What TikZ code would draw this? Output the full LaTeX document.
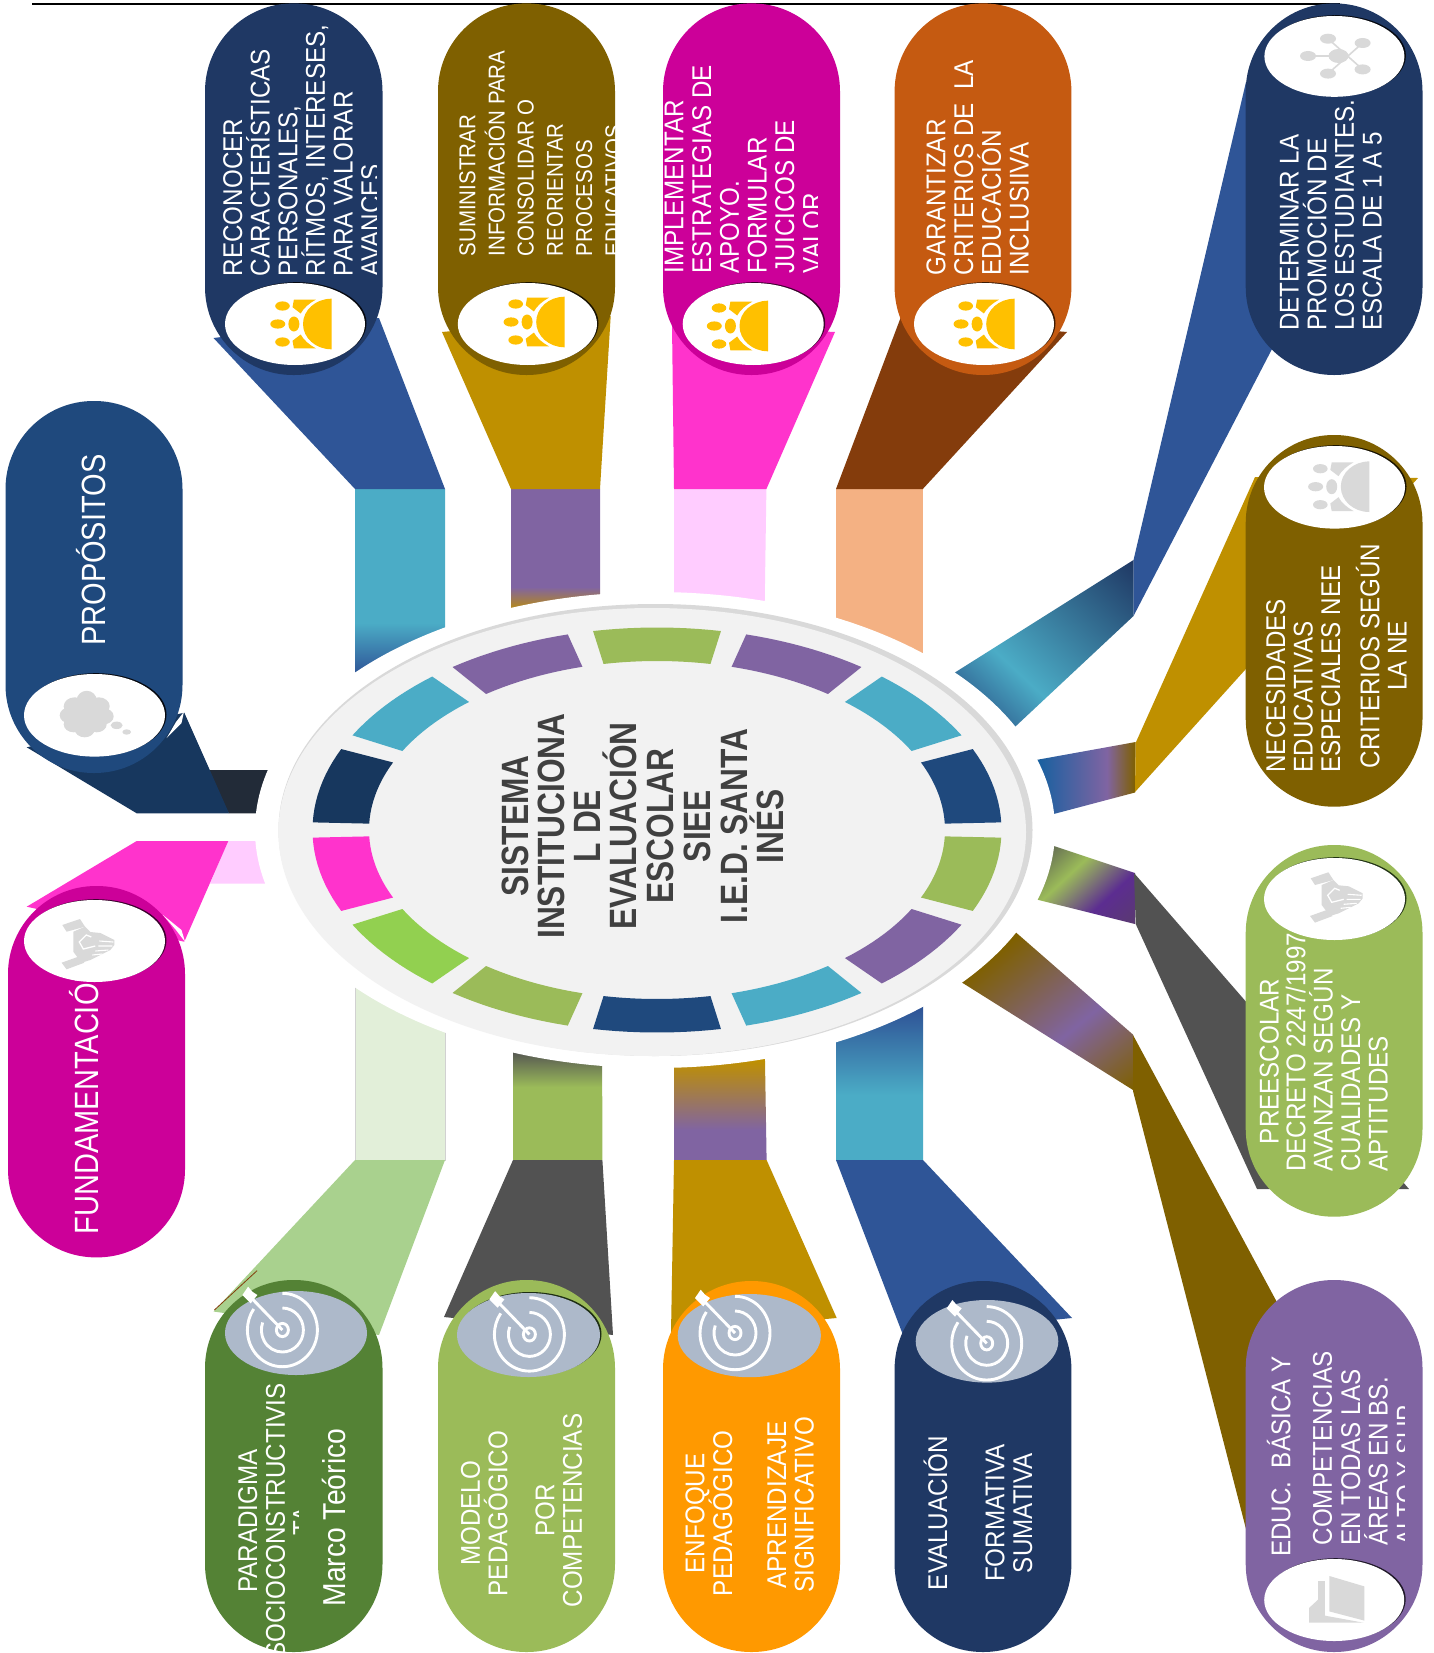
\documentclass[tikz,border=0pt]{standalone}
\usepackage{fontspec}
\setmainfont{Liberation Sans}
\definecolor{navy}{HTML}{1F3864}
\definecolor{navyb}{HTML}{1F497D}
\definecolor{navyc}{HTML}{17375E}
\definecolor{olive}{HTML}{7F6000}
\definecolor{magen}{HTML}{CC0099}
\definecolor{rust}{HTML}{C55A11}
\definecolor{leaf}{HTML}{9BBB59}
\definecolor{grape}{HTML}{8064A2}
\definecolor{orng}{HTML}{FF9900}
\definecolor{forest}{HTML}{548235}
\definecolor{midblue}{HTML}{2F5597}
\definecolor{teal2}{HTML}{4BACC6}
\definecolor{gold}{HTML}{BF9000}
\definecolor{hotpink}{HTML}{FF33CC}
\definecolor{palepink}{HTML}{FFCCFF}
\definecolor{brownd}{HTML}{843C0C}
\definecolor{peach}{HTML}{F4B183}
\definecolor{slate}{HTML}{525252}
\definecolor{sage}{HTML}{A9D18E}
\definecolor{palegreen}{HTML}{E2EFD9}
\definecolor{lime}{HTML}{92D050}
\definecolor{ink}{HTML}{222B38}
\definecolor{steel}{HTML}{ADB9CA}
\definecolor{sun}{HTML}{FFC000}
\definecolor{ashy}{HTML}{D9D9D9}
\definecolor{disc}{HTML}{F2F2F2}
\definecolor{captxt}{HTML}{404040}
\definecolor{bluea}{HTML}{1560A0}
\definecolor{bluefade}{HTML}{2F5F8F}
\definecolor{grayolive}{HTML}{525252}
\definecolor{violet2}{HTML}{5C2D91}
\definecolor{violet3}{HTML}{5A3A70}
% gradients: 1bp of shading = 5 units along the axis
\pgfdeclareverticalshading{gra}{100bp}{color(0bp)=(midblue); color(35.2bp)=(midblue); color(45.4bp)=(teal2); color(100bp)=(teal2)}
\pgfdeclareverticalshading{grb}{100bp}{color(0bp)=(gold); color(47.6bp)=(gold); color(52.6bp)=(grape); color(100bp)=(grape)}
\pgfdeclareverticalshading{grc}{100bp}{color(0bp)=(bluefade); color(28.8bp)=(bluefade); color(40.8bp)=(teal2); color(73bp)=(navy); color(100bp)=(navy)}
\pgfdeclareverticalshading{grd}{100bp}{color(0bp)=(bluea); color(39.2bp)=(bluea); color(53.4bp)=(grape); color(59bp)=(olive); color(100bp)=(olive)}
\pgfdeclareverticalshading{gre}{100bp}{color(0bp)=(grayolive); color(38.7bp)=(grayolive); color(47.7bp)=(leaf); color(56.4bp)=(violet2); color(63.9bp)=(violet3); color(100bp)=(violet3)}
\pgfdeclareverticalshading{grf}{100bp}{color(0bp)=(olive); color(35.8bp)=(olive); color(57.4bp)=(grape); color(74.4bp)=(olive); color(100bp)=(olive)}
\pgfdeclareverticalshading{grg}{100bp}{color(0bp)=(teal2); color(47bp)=(teal2); color(64bp)=(midblue); color(100bp)=(midblue)}
\pgfdeclareverticalshading{grh}{100bp}{color(0bp)=(grape); color(44bp)=(grape); color(58bp)=(gold); color(100bp)=(gold)}
\pgfdeclareverticalshading{gri}{100bp}{color(0bp)=(leaf); color(52.6bp)=(leaf); color(60bp)=(slate); color(100bp)=(slate)}
\newcommand\gradfill[5]{\begin{scope}\clip #5;\shade[shading=#1,shading angle=#2] ({#3-125},{#4-125}) rectangle ({#3+125},{#4+125});\end{scope}}
\newcommand\pill[5]{\fill[#1,rounded corners=88pt] (#2,#3) rectangle (#4,#5);}
\newcommand\plainoval[5]{\fill[#1] (#2,#3) ellipse[x radius=#4,y radius=#5];}
\newcommand\rimoval[5]{\fill[#1] ({#2+1.5},{#3-.8}) ellipse[x radius=#4,y radius=#5];\fill[white] (#2,#3) ellipse[x radius=#4,y radius=#5];}
\newcommand\seg[2]{\pgfmathsetmacro\sa{#1-10.7}\pgfmathsetmacro\sb{#1+10.7}\fill[#2] plot[domain=\sa:\sb,samples=12] ({657+344.5*cos(\x)},{830-202.5*sin(\x)}) -- plot[domain=\sb:\sa,samples=12] ({657+288*cos(\x)},{830-169*sin(\x)}) -- cycle;}
\newcommand\sunicon[3]{\begin{scope}[shift={(#1,#2)}]
\fill[#3] (0,-25.3) arc[start angle=270,end angle=90,x radius=28.5,y radius=25.3] -- cycle;
\fill[#3] (-37.6,-24.4) -- (-15.6,-24.4) .. controls (-22,-21) and (-28,-16) .. (-30.8,-10.5) -- (-39,-16.8) -- cycle;
\fill[#3] (-37.6,24.4) -- (-15.6,24.4) .. controls (-22,21) and (-28,16) .. (-30.8,10.5) -- (-39,16.8) -- cycle;
\fill[#3] (-37.6,0) ellipse[x radius=5.5,y radius=7.5];
\fill[#3] (-49,-18) ellipse[x radius=7.3,y radius=4.6];
\fill[#3] (-53.7,0) ellipse[x radius=7.5,y radius=4.6];
\fill[#3] (-49,18) ellipse[x radius=7.3,y radius=4.6];
\end{scope}}
\newcommand\targeticon[2]{\begin{scope}[shift={(#1,#2)},line width=2.9pt,white]
\draw (0,-36.7) arc[start angle=270,end angle=575,x radius=35,y radius=36.7];
\draw (0,-22) arc[start angle=270,end angle=560,x radius=21,y radius=22];
\draw (0,0) ellipse[x radius=6,y radius=6.6];
\draw (0,0) -- (-30,-31);
\fill (-40,-35) -- (-34.3,-43.3) -- (-30,-38.3) -- (-25,-35) -- (-31.7,-26.7) -- (-35,-30) -- cycle;
\end{scope}}
\newcommand\handicon[2]{\begin{scope}[shift={(#1,#2)}]
\fill[ashy] (-26,-20) -- (-8.3,-26) -- (-3.3,-18.3) -- (-21.7,-13.3) -- cycle;
\fill[ashy] (-26.7,17.7) -- (-10,11.7) -- (-4,17.7) -- (-21.7,24.3) -- cycle;
\fill[ashy] (-15,-13.3) -- (-3.3,-18.3) -- (2,-13) -- (12,-12) -- (26,-5) -- (26,0) -- (22,5) -- (16,8) -- (2,15) -- (-6.7,17.7) -- (-15,6.7) -- cycle;
\draw[white,line width=1.3pt] (3,-8) -- (-2,-10) -- (-9,-3) -- (-5,4) -- (7,1);
\draw[white,line width=1.1pt] (11,-4) -- (25,-3) (10,1) -- (24,1) (7,6) -- (20,5) (4,10) -- (14,9);
\end{scope}}
\tikzset{
 vt/.style={xshift=2.5pt,yshift=-2pt,rotate=90,yscale=1.12,text=white,inner sep=0pt,font=\fontsize{24.2}{28}\selectfont},
 vtl/.style={vt,anchor=base west},
 vtc/.style={vt,anchor=base},
 vtb/.style={yshift=-2pt,rotate=90,yscale=1.16,text=white,inner sep=0pt,font=\fontsize{29}{32}\selectfont,anchor=base west},
 captitle/.style={rotate=90,yscale=1.2,text=captxt,inner sep=0pt,font=\fontsize{31.7}{38}\selectfont\bfseries,anchor=base}
}
\begin{document}
\begin{tikzpicture}[x=1pt,y=-1pt]
\useasboundingbox (0,0) rectangle (1433,1653);
\fill[white] (0,0) rectangle (1433,1653);
\coordinate (la) at (32,4.4); \coordinate (lb) at (1340,4.4);
\draw[black,line width=2.2pt] (la) -- (lb);
% inner ribbons
\gradfill{gra}{0}{400}{600}{(355,489) -- (445,489) -- (445,700) -- (355,700) -- cycle}
\gradfill{grb}{0}{555}{600}{(511,489) -- (600,489) -- (600,680) -- (511,680) -- cycle}
\fill[palepink] (674,489) -- (766.4,489) -- (764,650) -- (674,650) -- cycle;
\fill[peach] (836,489) -- (922.8,489) -- (922.8,700) -- (836,700) -- cycle;
\gradfill{grc}{-43}{1050}{640}{(1133.5,560) -- (1133.5,616) -- (1017,725) -- (982,758) -- (920,694) -- (955.7,672) -- cycle}
\gradfill{grd}{-90}{1090}{780}{(1135.7,742) -- (1135,792.5) -- (1053.7,814) -- (1000,828) -- (1000,766.5) -- (1036,760) -- cycle}
\gradfill{gre}{-137}{1080}{880}{(1135,873) -- (1135,924) -- (1038.7,900) -- (1000,890) -- (1000,828) -- (1054,846) -- cycle}
\gradfill{grf}{-140.3}{1050}{1000}{(1133,1034.6) -- (1133,1090) -- (962.7,983) -- (930,962) -- (980,901) -- (1017.7,934) -- cycle}
\gradfill{grg}{0}{880}{1080}{(836,1160) -- (923,1160) -- (923,960) -- (836,960) -- cycle}
\gradfill{grh}{0}{720}{1100}{(674,1160) -- (766.6,1160) -- (764,1000) -- (674,1000) -- cycle}
\gradfill{gri}{0}{558}{1100}{(513,1160) -- (602.4,1160) -- (602,1000) -- (513,1000) -- cycle}
\fill[palegreen,draw=black!18,line width=.4pt] (355,1160) -- (445,1160) -- (445,950) -- (355,950) -- cycle;
\fill[ink] (200,770) -- (300,770) -- (300,813.3) -- (229,813.3) -- cycle;
\fill[palepink] (228,841) -- (300,841) -- (300,883.7) -- (210,883.7) -- cycle;
% outer ribbons
\fill[midblue] (213.5,338) -- (379,318) -- (445,489) -- (355,489) -- cycle;
\fill[gold] (442,332) -- (610.7,316) -- (600,489) -- (511,489) -- cycle;
\fill[hotpink] (672,324) -- (835,332) -- (766.4,489) -- (674,489) -- cycle;
\fill[brownd] (900.5,318) -- (1067,332) -- (922.8,489) -- (836,489) -- cycle;
\fill[midblue] (1133.5,560) -- (1246,82) -- (1340,150) -- (1272,349) -- (1133.5,616) -- cycle;
\fill[gold] (1135.7,742.7) -- (1255,477) -- (1418,478) -- (1135,792) -- cycle;
\fill[slate] (1134,873) -- (1409,1189) -- (1257,1189) -- (1135.7,924) -- cycle;
\fill[olive] (1133,1035) -- (1279,1306) -- (1350,1450) -- (1254,1560) -- (1133,1091) -- cycle;
\fill[midblue] (836,1160) -- (923,1160) -- (1072,1318) -- (903,1335) -- cycle;
\fill[gold] (674,1160) -- (766.6,1160) -- (836.7,1318) -- (671,1333) -- cycle;
\fill[slate] (513,1160) -- (602.4,1160) -- (613,1335) -- (444,1317) -- cycle;
\fill[sage] (355,1160) -- (445,1160) -- (379,1335) -- (213.5,1311.5) -- cycle;
\draw[brownd,line width=.8pt] (214.4,1310) -- (257,1270.7);
\fill[navyc] (26.7,747.3) -- (184.3,712.7) -- (229,813.3) -- (136.7,813.3) -- cycle;
\fill[hotpink] (136.7,841) -- (228.3,841) -- (184.3,941.7) -- (26.7,906.7) -- cycle;
% centre disc
\fill[white] (655,830) ellipse[x radius=400,y radius=238];
\fill[ashy] (655.5,830) ellipse[x radius=377,y radius=226];
\fill[disc] (652.2,832) ellipse[x radius=373.8,y radius=224];
\seg{12.86}{navyb}
\seg{38.57}{teal2}
\seg{64.29}{grape}
\seg{90}{leaf}
\seg{115.71}{grape}
\seg{141.43}{teal2}
\seg{167.14}{navyc}
\seg{192.86}{hotpink}
\seg{218.57}{lime}
\seg{244.29}{leaf}
\seg{270}{navyb}
\seg{295.71}{teal2}
\seg{321.43}{grape}
\seg{347.14}{leaf}
\node[captitle] (c1) at (528,826) {SISTEMA};
\node[captitle] (c2) at (564,826) {INSTITUCIONA};
\node[captitle] (c3) at (600,826) {L DE};
\node[captitle] (c4) at (636.6,826) {EVALUACIÓN};
\node[captitle] (c5) at (673.3,826) {ESCOLAR};
\node[captitle] (c6) at (710.6,826) {SIEE};
\node[captitle] (c7) at (747.4,826) {I.E.D. SANTA};
\node[captitle] (c8) at (783,826) {INÉS};
% pills
\pill{navy}{205}{3.4}{382.5}{375}
\pill{olive}{438}{3.4}{615}{375}
\pill{magen}{663}{3.4}{840}{375}
\pill{rust}{894.6}{3.4}{1071.4}{375}
\pill{navy}{1245.7}{3.4}{1422.5}{375}
\pill{olive}{1245.7}{435}{1422.5}{806.7}
\pill{leaf}{1245.7}{845}{1422.5}{1216.7}
\pill{grape}{1245.7}{1280}{1422.5}{1652}
\pill{navy}{894.6}{1281}{1071.4}{1652}
\pill{orng}{663}{1281}{840}{1652}
\pill{leaf}{438}{1280}{615}{1652}
\pill{forest}{205}{1280}{382.5}{1652}
\pill{navyb}{5.5}{401}{182.5}{773}
\pill{magen}{8}{886}{185}{1257.4}
% small white crescents beside the two left capsules
\fill[white] (184,711.7) -- (181.5,723) -- (166.7,738) -- (176,722) -- cycle;
\fill[white] (185,941.7) -- (181.5,930) -- (163,915) -- (176,930) -- cycle;
% texts
\begin{scope}\clip (205,3) rectangle (376.5,375);
\node[vtl] (a1) at (239.6,274.4) {RECONOCER};
\node[vtl] (a2) at (267.2,274.4) {CARACTERÍSTICAS};
\node[vtl] (a3) at (294.8,274.4) {PERSONALES,};
\node[vtl] (a4) at (322.4,274.4) {RÍTMOS, INTERESES,};
\node[vtl] (a5) at (350,274.4) {PARA VALORAR};
\node[vtl] (a6) at (377.6,274.4) {AVANCES};
\end{scope}
\begin{scope}\clip (438,3) rectangle (615,375);
\tikzset{vt/.append style={font=\fontsize{20.5}{25}\selectfont}}
\node[vtl] (b1) at (472.8,254.6) {SUMINISTRAR};
\node[vtl] (b2) at (502,254.6) {INFORMACIÓN PARA};
\node[vtl] (b3) at (531.2,254.6) {CONSOLIDAR O};
\node[vtl] (b4) at (560.4,254.6) {REORIENTAR};
\node[vtl] (b5) at (589.6,254.6) {PROCESOS};
\node[vtl] (b6) at (618.8,254.6) {EDUCATIVOS};
\end{scope}
\begin{scope}\clip (650,3) rectangle (817.3,375);
\node[vtl] (d1) at (680.9,271.5) {IMPLEMENTAR};
\node[vtl] (d2) at (708.6,271.5) {ESTRATEGIAS DE};
\node[vtl] (d3) at (736.3,271.5) {APOYO.};
\node[vtl] (d4) at (764,271.5) {FORMULAR};
\node[vtl] (d5) at (791.7,271.5) {JUICICOS DE};
\node[vtl] (d6) at (819.4,271.5) {VALOR};
\end{scope}
\node[vtl] (e1) at (942.9,273.6) {GARANTIZAR};
\node[vtl] (e2) at (970.6,273.6) {CRITERIOS DE\ \ LA};
\node[vtl] (e3) at (998.3,273.6) {EDUCACIÓN};
\node[vtl] (e4) at (1026,273.6) {INCLUSIIVA};
\node[vtl] (f1) at (1296.2,329) {DETERMINAR LA};
\node[vtl] (f2) at (1323.8,329) {PROMOCIÓN DE};
\node[vtl] (f3) at (1351.4,329) {LOS ESTUDIANTES.};
\node[vtl] (f4) at (1379,329) {ESCALA DE 1 A 5};
\node[vtl] (g1) at (1282.6,770.7) {NECESIDADES};
\node[vtl] (g2) at (1310.1,770.7) {EDUCATIVAS};
\node[vtl] (g3) at (1337.6,770.7) {ESPECIALES NEE};
\node[vtc] (g4) at (1376.9,654) {CRITERIOS SEGÚN};
\node[vtc] (g5) at (1404.2,654) {LA NE};
\node[vtl] (h1) at (1276.2,1142.3) {PREESCOLAR};
\node[vtl] (h2) at (1302.9,1170) {DECRETO 2247/1997};
\node[vtl] (h3) at (1330.2,1170) {AVANZAN SEGÚN};
\node[vtl] (h4) at (1357.6,1170) {CUALIDADES Y};
\node[vtl] (h5) at (1385.2,1170) {APTITUDES};
\begin{scope}\clip (1245,1280) rectangle (1404.4,1653);
\node[vtl] (i1) at (1287.9,1555) {EDUC.\ \ BÁSICA Y};
\node[vtl] (i2) at (1329.4,1543.5) {COMPETENCIAS};
\node[vtl] (i3) at (1357.6,1543.5) {EN TODAS LAS};
\node[vtl] (i4) at (1385,1543.5) {ÁREAS EN BS.};
\node[vtl] (i5) at (1413,1543.5) {ALTO Y SUP};
\end{scope}
\node[vtc] (j1) at (944.6,1511) {EVALUACIÓN};
\node[vtc] (j2) at (1001.9,1511) {FORMATIVA};
\node[vtc] (j3) at (1029.6,1511) {SUMATIVA};
\node[vtc] (k1) at (701.9,1511.3) {ENFOQUE};
\node[vtc] (k2) at (729.6,1511.3) {PEDAGÓGICO};
\node[vtc] (k3) at (783.6,1503) {APRENDIZAJE};
\node[vtc] (k4) at (811.2,1503) {SIGNIFICATIVO};
\node[vtc] (m1) at (477.4,1511.5) {MODELO};
\node[vtc] (m2) at (504.9,1511.5) {PEDAGÓGICO};
\node[vtc] (m3) at (551.9,1508.6) {POR};
\node[vtc] (m4) at (579.3,1508.6) {COMPETENCIAS};
\begin{scope}\clip (205,1280) rectangle (298.4,1652);
\node[vtc] (n1) at (254.7,1519) {PARADIGMA};
\node[vtc] (n2) at (282.3,1519) {SOCIOCONSTRUCTIVIS};
\node[vtc] (n3) at (309.4,1519) {TA};
\end{scope}
\node[vtc,font=\fontsize{28.3}{32}\selectfont] (n4) at (342.7,1515.6) {Marco Teórico};
\node[vtb] (o1) at (105,644) {PROPÓSITOS};
\node[vtb] (o2) at (98.7,1232.4) {FUNDAMENTACIÓN};
% ovals
\rimoval{black!85!navy}{295}{324}{70}{41}
\rimoval{black!80!olive}{527.4}{324}{69.6}{41}
\rimoval{black!70!magen}{753.2}{324}{70.5}{41}
\rimoval{black!70!rust}{984}{324}{70}{41}
\rimoval{black!85!navy}{1334.4}{56.4}{70}{40.4}
\rimoval{black!80!olive}{1334.5}{487.3}{70.5}{41.3}
\rimoval{black!60!forest}{1334.5}{899}{70.5}{41}
\rimoval{black!75!grape}{1334.2}{1600}{70}{41}
\rimoval{black!85!navy}{94.5}{715.3}{70.5}{41.3}
\rimoval{black!70!magen}{94.5}{941}{70.5}{41}
\fill[black!65!forest] (530,1334) ellipse[x radius=71.5,y radius=42];
\plainoval{steel}{987}{1341.3}{71.3}{41.3}
\plainoval{steel}{749.3}{1335.6}{71.6}{41.6}
\plainoval{steel}{528.5}{1335}{71.5}{42}
\plainoval{steel}{296}{1333}{71}{42}
% icons
\sunicon{331.5}{324}{sun}
\sunicon{564.7}{322}{sun}
\sunicon{768}{326}{sun}
\sunicon{1014.7}{324}{sun}
\sunicon{1369.3}{486.7}{ashy}
\targeticon{986.7}{1343.3}
\targeticon{735}{1333}
\targeticon{529.4}{1334.4}
\targeticon{282.4}{1330}
\handicon{1336.7}{898.3}
\handicon{88.3}{945}
% network icon
\begin{scope}[shift={(1338.5,56)}]
\draw[ashy,line width=1.6pt] (-10.5,-17.3) -- (24.1,13.4) (24.1,-13) -- (-10.5,17.6) (-30.5,0) -- (0,0);
\fill[ashy] (0,0) ellipse[x radius=10,y radius=7];
\fill[ashy] (-10.5,-17.3) ellipse[x radius=8,y radius=5];
\fill[ashy] (24.1,-13) ellipse[x radius=8,y radius=5];
\fill[ashy] (24.1,13.4) ellipse[x radius=8,y radius=5];
\fill[ashy] (-10.5,17.6) ellipse[x radius=8,y radius=5];
\fill[ashy] (-30.5,0) ellipse[x radius=8,y radius=5];
\end{scope}
% book icon
\fill[ashy] (1329.4,1576) -- (1364.4,1586.4) -- (1364.4,1620.6) -- (1329.4,1611.4) -- cycle;
\fill[ashy] (1318,1581) -- (1324.8,1581) -- (1324.8,1615.6) -- (1363.5,1622.7) -- (1309,1622.7) -- (1309,1608) -- (1318,1599.7) -- cycle;
% cloud icon
\begin{scope}[shift={(86.7,714.3)}]
\fill[ashy] (0,-14) ellipse[x radius=10,y radius=9.5];
\fill[ashy] (-12,-8) ellipse[x radius=11,y radius=9];
\fill[ashy] (12,-8) ellipse[x radius=11,y radius=9];
\fill[ashy] (-17,1) ellipse[x radius=10,y radius=8];
\fill[ashy] (17,2) ellipse[x radius=10,y radius=8];
\fill[ashy] (-13,10) ellipse[x radius=10,y radius=8];
\fill[ashy] (-2,15) ellipse[x radius=10,y radius=8];
\fill[ashy] (10,10) ellipse[x radius=10,y radius=8];
\fill[ashy] (0,0) ellipse[x radius=16,y radius=12];
\fill[ashy] (30,11) ellipse[x radius=6,y radius=3.7];
\fill[ashy] (40,17.7) ellipse[x radius=4.3,y radius=2.7];
\end{scope}
\end{tikzpicture}
\end{document}
